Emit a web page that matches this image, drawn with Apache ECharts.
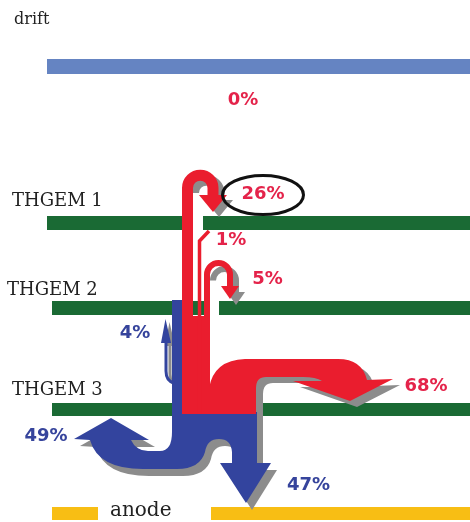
<!DOCTYPE html>
<html><head><meta charset="utf-8">
<script src="https://cdn.jsdelivr.net/npm/echarts@6/dist/echarts.min.js"></script>
<style>html,body{margin:0;padding:0;background:#fff}#c{width:470px;height:522px}</style>
</head><body><div id="c"></div>
<script>
// ---- data ----
const layerNames = ['drift', 'THGEM 1', 'THGEM 2', 'THGEM 3', 'anode'];
const ionStages = ['drift', 'THGEM 1 top', 'THGEM 1 hole', 'THGEM 2', 'THGEM 3'];
const ionPercent = [0, 26, 1, 5, 68];
const electronStages = ['THGEM 2 back', 'THGEM 3 bottom', 'anode'];
const electronPercent = [4, 49, 47];

// ---- layout (diagram geometry, in axis units) ----
const GREEN = '#1A6A34', RED = '#EA1D2E', BLUE = '#33449E', GRAY = '#8C8C8C';
const RED_TXT = '#E4234A', BLUE_TXT = '#36449C';
const barLayout = [
  {y0: 59, y1: 74, segs: [[47, 470]], color: '#6584C2', tx: 14, ty: 19.5, size: 16},
  {y0: 216, y1: 230, segs: [[47, 183], [203, 470]], color: GREEN, tx: 12, ty: 201.5, size: 18},
  {y0: 301, y1: 315, segs: [[52, 210], [219, 470]], color: GREEN, tx: 7, ty: 290, size: 18},
  {y0: 403, y1: 416, segs: [[52, 470]], color: GREEN, tx: 12, ty: 390, size: 18},
  {y0: 507, y1: 520, segs: [[52, 98], [211, 470]], color: '#F8BE14', tx: 110, ty: 510.5, size: 20}
];
const ionLabelPos = [[243, 100.5], [263, 194], [231, 240], [267.5, 279], [426, 386]];
const electronLabelPos = [[135, 333], [46, 436], [308.5, 485]];

function pathData(api, cmds) {
  return cmds.map(function (c) {
    const op = c[0], out = [op];
    if (op === 'A') {
      const s = api.size([c[1], c[2]]);
      const p = api.coord([c[6], c[7]]);
      out.push(Math.abs(s[0]), Math.abs(s[1]), c[3], c[4], c[5], p[0], p[1]);
    } else {
      for (let i = 1; i < c.length; i += 2) {
        const p = api.coord([c[i], c[i + 1]]);
        out.push(p[0], p[1]);
      }
    }
    return out.join(' ');
  }).join(' ');
}
function shift(cmds, dx, dy) {
  return cmds.map(function (c) {
    if (c[0] === 'A') return [c[0], c[1], c[2], c[3], c[4], c[5], c[6] + dx, c[7] + dy];
    const o = [c[0]];
    for (let i = 1; i < c.length; i += 2) o.push(c[i] + dx, c[i + 1] + dy);
    return o;
  });
}

// flow shapes
const redShapes = [
  {fill: true, cmds: [['M',182,316],['L',209,316],['L',209,414],['L',182,414],['Z']]},
  {w: 11, cmds: [['M',187.5,414],['L',187.5,188],['A',12.75,12.75,0,0,1,213,188],['L',213,196]],
   sh: [6,5], shCmds: [['M',187.5,188],['A',12.75,12.75,0,0,1,213,188],['L',213,196]]},
  {fill: true, cmds: [['M',199,195],['L',227,195],['L',213,212],['Z']], sh: [6,5]},
  {w: 3.5, cmds: [['M',199.5,414],['L',199.5,241],['L',209,231]]},
  {w: 6, cmds: [['M',207,414],['L',207,274.5],['A',11.5,11.5,0,0,1,230,274.5],['L',230,287]],
   sh: [6,6], shCmds: [['M',207,274.5],['A',11.5,11.5,0,0,1,230,274.5],['L',230,287]]},
  {fill: true, cmds: [['M',221,286],['L',239,286],['L',230,299],['Z']], sh: [6,6]},
  {fill: true, cmds: [['M',209,414],['L',256,414],['L',256,388],['Q',256,377,266,377],['L',303,377],
    ['Q',316,377,322,381],['L',293,381],['L',350,401],['L',393,379],['L',367,380],['Q',362,359,338,359],
    ['L',245,359],['Q',214,360,209,388],['Z']], sh: [7,6]}
];
const blueShapes = [
  {fill: true, cmds: [['M',172,300],['L',182,300],['L',182,414],['L',172,414],['Z']]},
  {fill: true, cmds: [['M',172,412],['L',257,412],['L',257,463],['L',271,463],['L',246,503],['L',220,463],
    ['L',232,463],['L',232,452],['Q',231,439,219,439],['Q',207,439,205,452],['Q',200,469,177,469],
    ['L',143,469],['Q',98,469,90,440],['L',74,439],['L',111,418],['L',149,440],['L',131,440],
    ['Q',136,451,148,451],['L',160,451],['Q',172,451,172,432],['Z']], sh: [6,7]},
  {w: 3, cmds: [['M',174,383],['Q',166,381,166,371],['L',166,342]], sh: [4,3]},
  {fill: true, cmds: [['M',161,343],['L',165.5,319],['L',171,343],['Z']], sh: [4,3]}
];

function shapeEl(api, s, color, shadow) {
  let cmds = s.cmds;
  if (shadow) cmds = shift(s.shCmds || s.cmds, s.sh[0], s.sh[1]);
  const d = pathData(api, cmds);
  if (s.fill) return {type: 'path', shape: {pathData: d}, style: {fill: color}};
  return {type: 'path', shape: {pathData: d}, style: {fill: null, stroke: color, lineWidth: s.w, lineCap: 'butt', lineJoin: 'miter'}};
}

const chart = echarts.init(document.getElementById('c'), null, {renderer: 'canvas'});
chart.setOption({
  animation: false,
  backgroundColor: '#fff',
  grid: {left: 0, right: 0, top: 0, bottom: 0},
  xAxis: {type: 'value', min: 0, max: 470, show: false},
  yAxis: {type: 'value', min: 0, max: 522, inverse: true, show: false},
  series: [
    {
      type: 'custom', name: 'electrodes', z: 1,
      data: layerNames.map(function (n, i) { return [i]; }),
      renderItem: function (params, api) {
        const i = api.value(0);
        const L = barLayout[i];
        const children = L.segs.map(function (sg) {
          const a = api.coord([sg[0], L.y0]), b = api.coord([sg[1], L.y1]);
          return {type: 'rect', shape: {x: a[0], y: a[1], width: b[0] - a[0], height: b[1] - a[1]}, style: {fill: L.color}};
        });
        const t = api.coord([L.tx, L.ty]);
        children.push({type: 'text', style: {text: layerNames[i], x: t[0], y: t[1], fill: '#222',
          font: L.size + 'px "DejaVu Serif"', align: 'left', textAlign: 'left', verticalAlign: 'middle', textVerticalAlign: 'middle'}});
        return {type: 'group', children: children};
      }
    },
    {
      type: 'custom', name: 'flows', z: 2,
      data: [[0]],
      renderItem: function (params, api) {
        const ch = [];
        redShapes.forEach(function (s) { if (s.sh) ch.push(shapeEl(api, s, GRAY, true)); });
        blueShapes.forEach(function (s) { if (s.sh) ch.push(shapeEl(api, s, GRAY, true)); });
        blueShapes.forEach(function (s) { ch.push(shapeEl(api, s, BLUE, false)); });
        redShapes.forEach(function (s) { ch.push(shapeEl(api, s, RED, false)); });
        // ellipse highlight around the 26% label
        const c = ionLabelPos[1];
        const ell = [['M', c[0] - 40.5, c[1] + 1], ['A', 40.5, 19.5, 0, 1, 0, c[0] + 40.5, c[1] + 1], ['A', 40.5, 19.5, 0, 1, 0, c[0] - 40.5, c[1] + 1], ['Z']];
        ch.push({type: 'path', shape: {pathData: pathData(api, ell)}, style: {fill: null, stroke: '#111', lineWidth: 3}});
        return {type: 'group', children: ch};
      }
    },
    {
      type: 'custom', name: 'ion backflow', z: 3,
      data: ionPercent.map(function (v, i) { return [i, v]; }),
      renderItem: function (params, api) {
        const i = api.value(0), p = api.coord(ionLabelPos[i]);
        return {type: 'text', style: {text: api.value(1) + '%', x: p[0], y: p[1], fill: RED_TXT,
          font: 'bold 18px "DejaVu Sans"', align: 'center', textAlign: 'center', verticalAlign: 'middle', textVerticalAlign: 'middle'}};
      }
    },
    {
      type: 'custom', name: 'electrons', z: 3,
      data: electronPercent.map(function (v, i) { return [i, v]; }),
      renderItem: function (params, api) {
        const i = api.value(0), p = api.coord(electronLabelPos[i]);
        return {type: 'text', style: {text: api.value(1) + '%', x: p[0], y: p[1], fill: BLUE_TXT,
          font: 'bold 18px "DejaVu Sans"', align: 'center', textAlign: 'center', verticalAlign: 'middle', textVerticalAlign: 'middle'}};
      }
    }
  ]
});
</script></body></html>
